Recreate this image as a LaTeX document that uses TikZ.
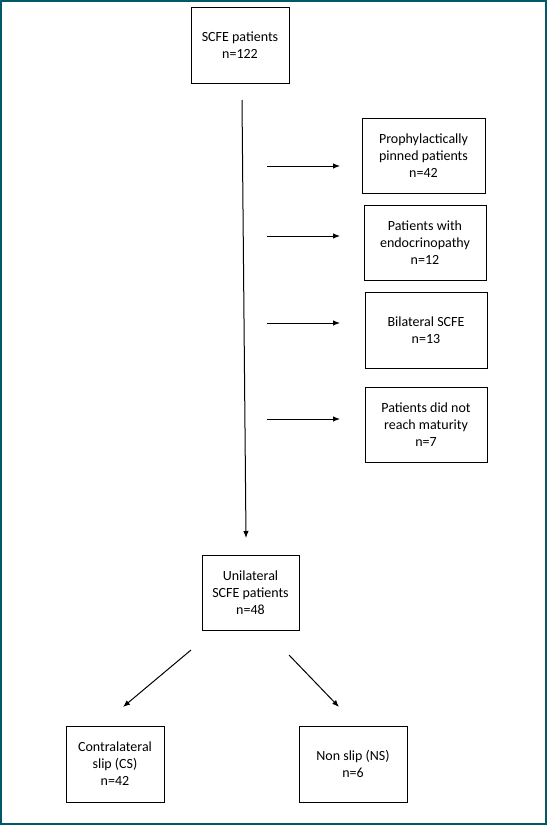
\documentclass[tikz,border=0pt]{standalone}
\usepackage{fontspec}
\setmainfont{Carlito}
\usetikzlibrary{arrows.meta}
\definecolor{frameteal}{RGB}{0,88,104}
\begin{document}
\begin{tikzpicture}
      [x=1bp,y=-1bp,>={Latex[length=7bp,width=5.5bp]},
       every node/.style={draw, line width=1bp, align=center, inner sep=0pt,
         font=\fontsize{14bp}{17bp}\selectfont}]
    \useasboundingbox (0,0) rectangle (547,825);
    \draw[frameteal, line width=2.2bp] (1.1,1.1) rectangle (545.9,823.9);

    \node[minimum width=98bp, minimum height=75bp] (n1) at (240,45.5) {SCFE patients\\n=122};
    \node[minimum width=123bp, minimum height=75bp] (n2) at (423.5,155.5) {Prophylactically\\pinned patients\\n=42};
    \node[minimum width=122bp, minimum height=75bp] (n3) at (425,242.5) {Patients with\\endocrinopathy\\n=12};
    \node[minimum width=122bp, minimum height=76bp] (n4) at (426,330) {Bilateral SCFE\\n=13};
    \node[minimum width=122bp, minimum height=75bp] (n5) at (426,424.5) {Patients did not\\reach maturity\\n=7};
    \node[minimum width=97bp, minimum height=75bp] (n6) at (250.5,592.5) {Unilateral\\SCFE patients\\n=48};
    \node[minimum width=98bp, minimum height=76bp] (n7) at (115,764) {Contralateral\\slip (CS)\\n=42};
    \node[minimum width=108bp, minimum height=76bp] (n8) at (353,764) {Non slip (NS)\\n=6};

    \coordinate (m1) at (242,100);
    \coordinate (m6) at (246,538);
    \coordinate (c7) at (191,650);
    \coordinate (e7) at (123,707);
    \coordinate (c8) at (289,655);
    \coordinate (e8) at (339,707);
    \foreach \i/\y in {2/166, 3/236, 4/323, 5/419} {
      \coordinate (s\i) at (267,\y);
      \coordinate (e\i) at (340,\y);
    }

    \draw[->, line width=1bp] (m1) -- (m6);
    \foreach \i in {2,3,4,5}
      \draw[->, line width=1bp] (s\i) -- (e\i);
    \draw[->, line width=1bp] (c7) -- (e7);
    \draw[->, line width=1bp] (c8) -- (e8);
\end{tikzpicture}
\end{document}
